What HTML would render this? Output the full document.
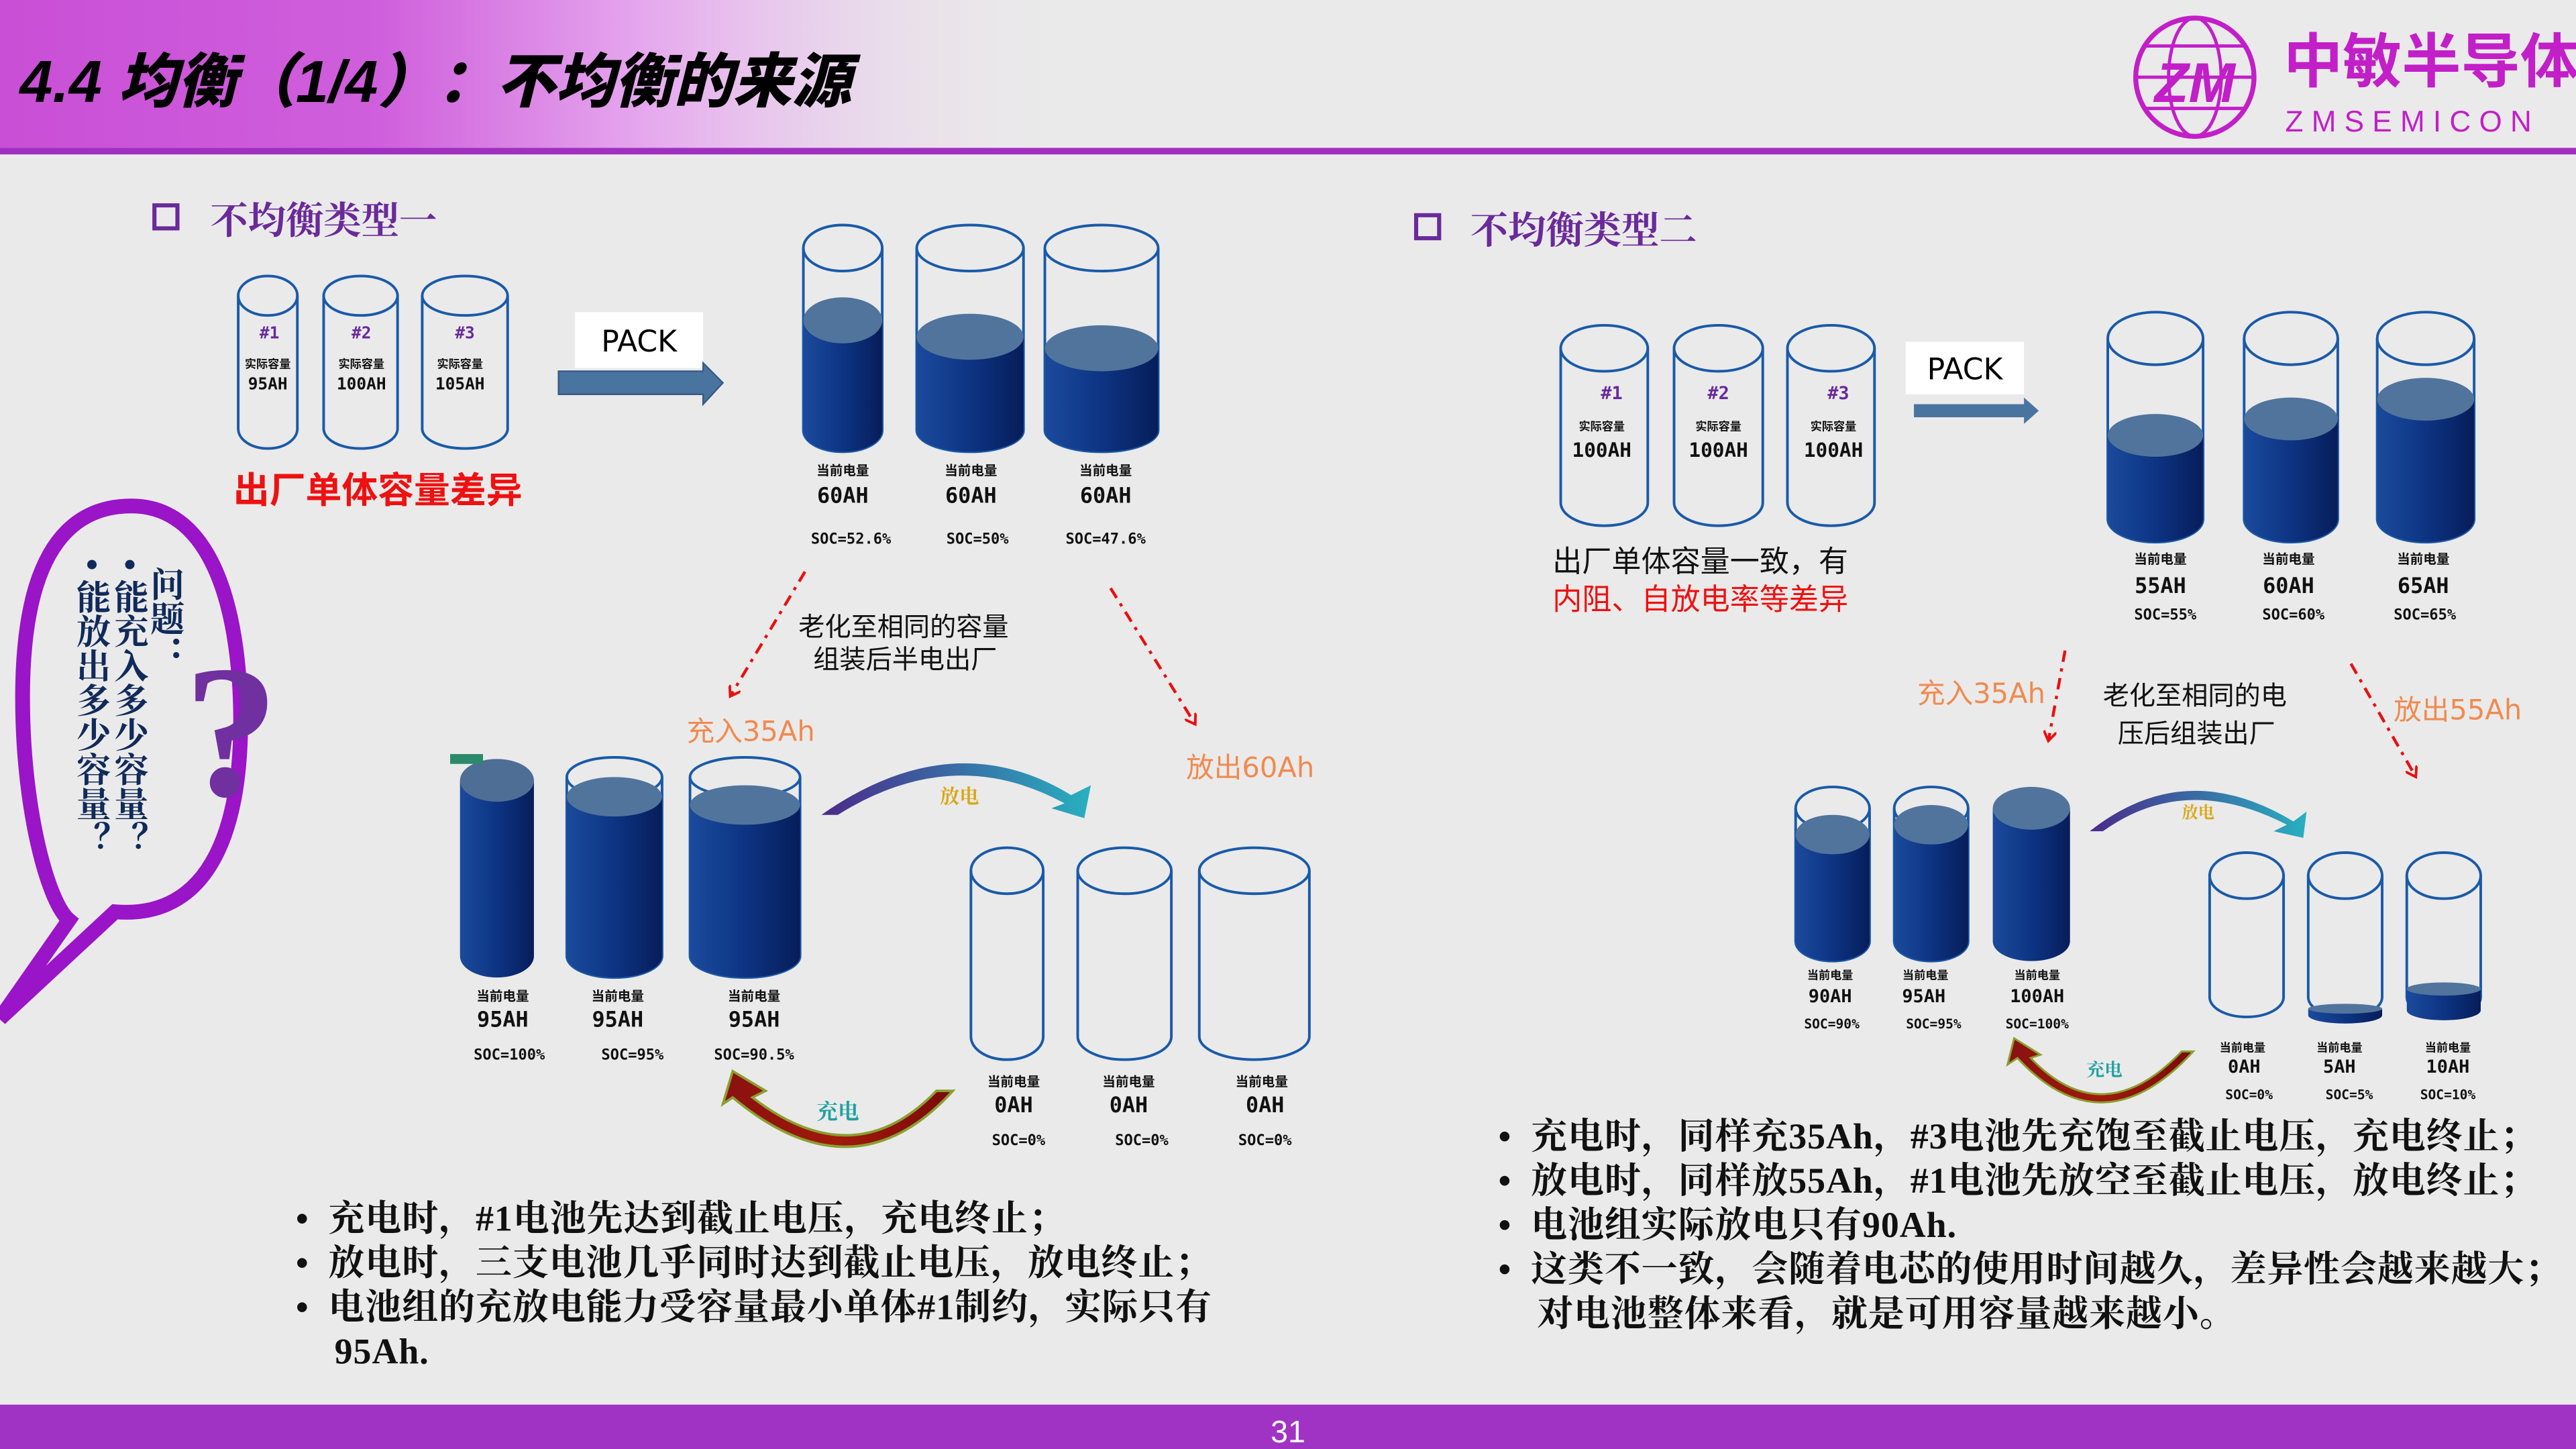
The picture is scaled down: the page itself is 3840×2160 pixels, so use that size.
<!DOCTYPE html>
<html><head><meta charset="utf-8">
<style>
html,body{margin:0;padding:0;width:3840px;height:2160px;overflow:hidden;background:#e8e8e8}
#w{position:absolute;left:0;top:0;width:1568px;height:882px;transform:scale(2.44898);transform-origin:0 0;background:#eaeaea;font-family:"Liberation Sans","Noto Sans CJK SC",sans-serif}
.a{position:absolute;white-space:nowrap}
.bl{font-family:"Liberation Serif","Noto Serif CJK SC",serif;font-weight:bold;font-size:22px;letter-spacing:0.4px;line-height:27px;color:#111}
.vt{writing-mode:vertical-rl;font-family:"Liberation Serif","Noto Serif CJK SC",serif;font-weight:bold;font-size:21px;color:#102a5a;line-height:22px}
</style></head><body><div id="w">
<svg width="1568" height="882" viewBox="0 0 1568 882" style="position:absolute;left:0;top:0" xmlns="http://www.w3.org/2000/svg">
<defs>
<linearGradient id="hd" x1="0" x2="1" y1="0" y2="0">
<stop offset="0" stop-color="#c94fd6"/><stop offset="0.35" stop-color="#cf5fdc"/><stop offset="0.6" stop-color="#e6a9ee"/><stop offset="1" stop-color="#eaeaea" stop-opacity="0"/></linearGradient>
<linearGradient id="bd" x1="0" x2="1" y1="0" y2="0">
<stop offset="0" stop-color="#1b4a9c"/><stop offset="0.5" stop-color="#0d3483"/><stop offset="1" stop-color="#071d5a"/></linearGradient>
<linearGradient id="dis" x1="0" x2="1"><stop offset="0" stop-color="#4a2a8a"/><stop offset="1" stop-color="#28b0c0"/></linearGradient>
<linearGradient id="chg" x1="0" x2="1"><stop offset="0" stop-color="#8a1010"/><stop offset="0.5" stop-color="#a01a0a"/><stop offset="1" stop-color="#7a0a0a"/></linearGradient>
<marker id="ar" markerWidth="8" markerHeight="8" refX="5" refY="4" orient="auto" markerUnits="userSpaceOnUse"><path d="M0,0 L6,4 L0,8" fill="none" stroke="#e81010" stroke-width="1.6"/></marker>
</defs>
<rect x="0" y="0" width="660" height="90" fill="url(#hd)"/>
<rect x="0" y="90" width="1568" height="4" fill="#a030c0"/>
<rect x="0" y="855" width="1568" height="27" fill="#a033c4"/>
<text x="784" y="878" font-size="19" fill="#fff" text-anchor="middle" font-family="Liberation Sans">31</text>
<text x="12" y="62" font-size="36" font-weight="900" font-family="Liberation Sans,Noto Sans CJK SC,sans-serif" fill="#000" font-style="italic">4.4 均衡（1/4）：不均衡的来源</text>
<!-- logo -->
<circle cx="1336" cy="47" r="36" fill="none" stroke="#c21fc8" stroke-width="3"/>
<ellipse cx="1336" cy="47" rx="16" ry="36" fill="none" stroke="#c21fc8" stroke-width="2"/>
<line x1="1300" y1="47" x2="1372" y2="47" stroke="#c21fc8" stroke-width="2"/>
<line x1="1306" y1="28" x2="1366" y2="28" stroke="#c21fc8" stroke-width="2"/>
<line x1="1306" y1="66" x2="1366" y2="66" stroke="#c21fc8" stroke-width="2"/>
<text x="1336" y="62" font-size="34" font-weight="bold" fill="#c21fc8" text-anchor="middle" font-style="italic" font-family="Liberation Sans">ZM</text>
<text x="1390" y="50" font-size="36" font-weight="bold" fill="#c21fc8" font-family="Noto Sans CJK SC,sans-serif">中敏半导体</text>
<text x="1391" y="80" font-size="18" fill="#c21fc8" letter-spacing="5" font-family="Liberation Sans">ZMSEMICON</text>

<!-- titles -->
<rect x="94" y="125" width="14" height="14" fill="none" stroke="#6a2a9a" stroke-width="2.5"/>
<text x="128" y="142" font-size="23" font-weight="bold" fill="#6a2a9a" font-family="Liberation Serif,Noto Serif CJK SC,serif">不均衡类型一</text>
<rect x="862" y="131" width="14" height="14" fill="none" stroke="#6a2a9a" stroke-width="2.5"/>
<text x="895" y="148" font-size="23" font-weight="bold" fill="#6a2a9a" font-family="Liberation Serif,Noto Serif CJK SC,serif">不均衡类型二</text>

<g fill="none" stroke="#1a5aa8" stroke-width="1.6">
<path d="M145,180 V261 A18,12 0 0 0 181,261 V180"/><ellipse cx="163" cy="180" rx="18" ry="12"/>
<path d="M197,180 V261 A22.5,12 0 0 0 242,261 V180"/><ellipse cx="219.5" cy="180" rx="22.5" ry="12"/>
<path d="M257,180 V261 A26,12 0 0 0 309,261 V180"/><ellipse cx="283" cy="180" rx="26" ry="12"/>
<path d="M489,151 V262 A24,13 0 0 0 537,262 V151"/><ellipse cx="513" cy="151" rx="24" ry="14"/>
<path d="M558,151 V262 A32.5,13 0 0 0 623,262 V151"/><ellipse cx="590.5" cy="151" rx="32.5" ry="14"/>
<path d="M636,151 V262 A34.5,13 0 0 0 705,262 V151"/><ellipse cx="670.5" cy="151" rx="34.5" ry="14"/>
<path d="M345,473 V582 A29,13 0 0 0 403,582 V473"/><ellipse cx="374" cy="473" rx="29" ry="12"/>
<path d="M420,473 V582 A33.5,13 0 0 0 487,582 V473"/><ellipse cx="453.5" cy="473" rx="33.5" ry="12"/>
<path d="M591,530 V631 A22,14 0 0 0 635,631 V530"/><ellipse cx="613" cy="530" rx="22" ry="14"/>
<path d="M656,530 V631 A28.5,14 0 0 0 713,631 V530"/><ellipse cx="684.5" cy="530" rx="28.5" ry="14"/>
<path d="M730,530 V631 A33.5,14 0 0 0 797,631 V530"/><ellipse cx="763.5" cy="530" rx="33.5" ry="14"/>
<path d="M950,212 V306 A26.5,14 0 0 0 1003,306 V212"/><ellipse cx="976.5" cy="212" rx="26.5" ry="14"/>
<path d="M1019,212 V306 A27,14 0 0 0 1073,306 V212"/><ellipse cx="1046" cy="212" rx="27" ry="14"/>
<path d="M1088,212 V306 A26.5,14 0 0 0 1141,306 V212"/><ellipse cx="1114.5" cy="212" rx="26.5" ry="14"/>
<path d="M1283,206 V316 A29,14 0 0 0 1341,316 V206"/><ellipse cx="1312" cy="206" rx="29" ry="16"/>
<path d="M1366,206 V316 A28.5,14 0 0 0 1423,316 V206"/><ellipse cx="1394.5" cy="206" rx="28.5" ry="16"/>
<path d="M1447,206 V316 A29.5,14 0 0 0 1506,316 V206"/><ellipse cx="1476.5" cy="206" rx="29.5" ry="16"/>
<path d="M1093,492 V573 A22.5,12 0 0 0 1138,573 V492"/><ellipse cx="1115.5" cy="492" rx="22.5" ry="13"/>
<path d="M1153,492 V573 A22.5,12 0 0 0 1198,573 V492"/><ellipse cx="1175.5" cy="492" rx="22.5" ry="13"/>
<path d="M1345,533 V607 A22.5,12 0 0 0 1390,607 V533"/><ellipse cx="1367.5" cy="533" rx="22.5" ry="14"/>
<path d="M1405,533 V607 A22.5,12 0 0 0 1450,607 V533"/><ellipse cx="1427.5" cy="533" rx="22.5" ry="14"/>
<path d="M1465,533 V607 A22.5,12 0 0 0 1510,607 V533"/><ellipse cx="1487.5" cy="533" rx="22.5" ry="14"/>
</g>
<g>
<path d="M489,195 V262 A24,13 0 0 0 537,262 V195 Z" fill="url(#bd)"/><ellipse cx="513" cy="195" rx="24" ry="14" fill="#51749c"/>
<path d="M558,205 V262 A32.5,13 0 0 0 623,262 V205 Z" fill="url(#bd)"/><ellipse cx="590.5" cy="205" rx="32.5" ry="14" fill="#51749c"/>
<path d="M636,212 V262 A34.5,13 0 0 0 705,262 V212 Z" fill="url(#bd)"/><ellipse cx="670.5" cy="212" rx="34.5" ry="14" fill="#51749c"/>
<path d="M280,475 V582 A22.5,13 0 0 0 325,582 V475 Z" fill="url(#bd)"/><ellipse cx="302.5" cy="475" rx="22.5" ry="13" fill="#4f6e96"/>
<rect x="274" y="459" width="20" height="6" fill="#2a8a6a"/>
<path d="M345,485 V582 A29,13 0 0 0 403,582 V485 Z" fill="url(#bd)"/><ellipse cx="374" cy="485" rx="29" ry="12" fill="#51749c"/>
<path d="M420,490 V582 A33.5,13 0 0 0 487,582 V490 Z" fill="url(#bd)"/><ellipse cx="453.5" cy="490" rx="33.5" ry="12" fill="#51749c"/>
<path d="M1283,265 V316 A29,14 0 0 0 1341,316 V265 Z" fill="url(#bd)"/><ellipse cx="1312" cy="265" rx="29" ry="13" fill="#51749c"/>
<path d="M1366,255 V316 A28.5,14 0 0 0 1423,316 V255 Z" fill="url(#bd)"/><ellipse cx="1394.5" cy="255" rx="28.5" ry="13" fill="#51749c"/>
<path d="M1447,243 V316 A29.5,14 0 0 0 1506,316 V243 Z" fill="url(#bd)"/><ellipse cx="1476.5" cy="243" rx="29.5" ry="13" fill="#51749c"/>
<path d="M1093,508 V573 A22.5,12 0 0 0 1138,573 V508 Z" fill="url(#bd)"/><ellipse cx="1115.5" cy="508" rx="22.5" ry="12" fill="#51749c"/>
<path d="M1153,502 V573 A22.5,12 0 0 0 1198,573 V502 Z" fill="url(#bd)"/><ellipse cx="1175.5" cy="502" rx="22.5" ry="12" fill="#51749c"/>
<path d="M1213,492 V573 A23.5,12 0 0 0 1260,573 V492 Z" fill="url(#bd)"/><ellipse cx="1236.5" cy="492" rx="23.5" ry="13" fill="#51749c"/>
<path d="M1405,614 V618 A22.5,5 0 0 0 1450,618 V614 Z" fill="url(#bd)"/><ellipse cx="1427.5" cy="614" rx="22.5" ry="3" fill="#51749c"/>
<path d="M1465,602 V615 A22.5,6 0 0 0 1510,615 V602 Z" fill="url(#bd)"/><ellipse cx="1487.5" cy="602" rx="22.5" ry="4" fill="#51749c"/>
</g>

<rect x="350" y="190" width="78" height="34" fill="#fff"/>
<text x="389" y="214" font-size="18" text-anchor="middle" font-family="DejaVu Sans,sans-serif">PACK</text>
<path d="M340,226 H428 V221 L440,233 L428,246 V240 H340 Z" fill="#4a74a0" stroke="#3a5a88" stroke-width="1"/>
<rect x="1160" y="208" width="72" height="32" fill="#fff"/>
<text x="1196" y="231" font-size="18" text-anchor="middle" font-family="DejaVu Sans,sans-serif">PACK</text>
<path d="M1165,246 H1232 V242 L1241,250 L1232,258 V254 H1165 Z" fill="#4a74a0"/>

<g font-family="DejaVu Sans Mono,Liberation Mono,monospace" font-weight="bold" fill="#111" text-anchor="middle">
<text x="164" y="206" font-size="10" fill="#6a2a9a">#1</text><text x="220" y="206" font-size="10" fill="#6a2a9a">#2</text><text x="283" y="206" font-size="10" fill="#6a2a9a">#3</text>
<text x="163" y="224" font-size="7" font-family="Noto Sans CJK SC">实际容量</text><text x="220" y="224" font-size="7" font-family="Noto Sans CJK SC">实际容量</text><text x="280" y="224" font-size="7" font-family="Noto Sans CJK SC">实际容量</text>
<text x="163" y="237" font-size="10">95AH</text><text x="220" y="237" font-size="10">100AH</text><text x="280" y="237" font-size="10">105AH</text>
<g font-size="8" font-family="Noto Sans CJK SC"><text x="513" y="289">当前电量</text><text x="591" y="289">当前电量</text><text x="673" y="289">当前电量</text></g>
<g font-size="13"><text x="513" y="306">60AH</text><text x="591" y="306">60AH</text><text x="673" y="306">60AH</text></g>
<g font-size="9"><text x="518" y="331">SOC=52.6%</text><text x="595" y="331">SOC=50%</text><text x="673" y="331">SOC=47.6%</text></g>
<g font-size="8" font-family="Noto Sans CJK SC"><text x="306" y="609">当前电量</text><text x="376" y="609">当前电量</text><text x="459" y="609">当前电量</text></g>
<g font-size="13"><text x="306" y="625">95AH</text><text x="376" y="625">95AH</text><text x="459" y="625">95AH</text></g>
<g font-size="9"><text x="310" y="645">SOC=100%</text><text x="385" y="645">SOC=95%</text><text x="459" y="645">SOC=90.5%</text></g>
<g font-size="8" font-family="Noto Sans CJK SC"><text x="617" y="661">当前电量</text><text x="687" y="661">当前电量</text><text x="768" y="661">当前电量</text></g>
<g font-size="13"><text x="617" y="677">0AH</text><text x="687" y="677">0AH</text><text x="770" y="677">0AH</text></g>
<g font-size="9"><text x="620" y="697">SOC=0%</text><text x="695" y="697">SOC=0%</text><text x="770" y="697">SOC=0%</text></g>
<text x="981" y="243" font-size="11" fill="#6a2a9a">#1</text><text x="1046" y="243" font-size="11" fill="#6a2a9a">#2</text><text x="1119" y="243" font-size="11" fill="#6a2a9a">#3</text>
<g font-size="7" font-family="Noto Sans CJK SC"><text x="975" y="262">实际容量</text><text x="1046" y="262">实际容量</text><text x="1116" y="262">实际容量</text></g>
<g font-size="12"><text x="975" y="278">100AH</text><text x="1046" y="278">100AH</text><text x="1116" y="278">100AH</text></g>
<g font-size="8" font-family="Noto Sans CJK SC"><text x="1315" y="343">当前电量</text><text x="1393" y="343">当前电量</text><text x="1475" y="343">当前电量</text></g>
<g font-size="13"><text x="1315" y="361">55AH</text><text x="1393" y="361">60AH</text><text x="1475" y="361">65AH</text></g>
<g font-size="9"><text x="1318" y="377">SOC=55%</text><text x="1396" y="377">SOC=60%</text><text x="1476" y="377">SOC=65%</text></g>
<g font-size="7" font-family="Noto Sans CJK SC"><text x="1114" y="596">当前电量</text><text x="1172" y="596">当前电量</text><text x="1240" y="596">当前电量</text></g>
<g font-size="11"><text x="1114" y="610">90AH</text><text x="1171" y="610">95AH</text><text x="1240" y="610">100AH</text></g>
<g font-size="8"><text x="1115" y="626">SOC=90%</text><text x="1177" y="626">SOC=95%</text><text x="1240" y="626">SOC=100%</text></g>
<g font-size="7" font-family="Noto Sans CJK SC"><text x="1365" y="640">当前电量</text><text x="1424" y="640">当前电量</text><text x="1490" y="640">当前电量</text></g>
<g font-size="11"><text x="1366" y="653">0AH</text><text x="1424" y="653">5AH</text><text x="1490" y="653">10AH</text></g>
<g font-size="8"><text x="1369" y="669">SOC=0%</text><text x="1430" y="669">SOC=5%</text><text x="1490" y="669">SOC=10%</text></g>
</g>

<text x="142" y="306" font-size="22" font-weight="bold" fill="#ee1111" font-family="Noto Sans CJK SC,sans-serif">出厂单体容量差异</text>
<text x="945" y="348" font-size="18" fill="#111" font-family="Noto Sans CJK SC,sans-serif">出厂单体容量一致，有</text>
<text x="945" y="371" font-size="18" fill="#ee1111" font-family="Noto Sans CJK SC,sans-serif">内阻、自放电率等差异</text>

<g stroke="#e81010" stroke-width="1.8" stroke-dasharray="7,4,2,4" fill="none">
<line x1="490" y1="348" x2="445" y2="423" marker-end="url(#ar)"/>
<line x1="676" y1="358" x2="727" y2="440" marker-end="url(#ar)"/>
<line x1="1257" y1="396" x2="1247" y2="450" marker-end="url(#ar)"/>
<line x1="1431" y1="404" x2="1470" y2="472" marker-end="url(#ar)"/>
</g>
<g font-family="Noto Sans CJK SC,sans-serif" font-size="16" fill="#111">
<text x="486" y="387">老化至相同的容量</text><text x="495" y="407">组装后半电出厂</text>
<text x="1280" y="429">老化至相同的电</text><text x="1289" y="452">压后组装出厂</text>
</g>
<g font-family="DejaVu Sans,Noto Sans CJK SC,sans-serif" font-size="17" fill="#f08a50">
<text x="418" y="451">充入35Ah</text><text x="722" y="473">放出60Ah</text>
<text x="1167" y="428">充入35Ah</text><text x="1457" y="438">放出55Ah</text>
</g>

<path d="M500,496 Q580,440 652,484 L664,478 L660,498 L640,492 L648,489 Q580,452 510,496 Z" fill="url(#dis)"/>
<text x="572" y="489" font-size="12" font-weight="bold" fill="#d8a818" font-family="Noto Serif CJK SC,serif">放电</text>
<path d="M580,664 Q520,730 446,668 L440,672 L446,652 L466,664 L458,668 Q520,716 570,664 Z" fill="url(#chg)" stroke="#8aa030" stroke-width="1.5"/>
<text x="497" y="681" font-size="13" font-weight="bold" fill="#20a0a0" font-family="Noto Serif CJK SC,serif">充电</text>
<path d="M1272,506 Q1330,460 1396,500 L1404,494 L1402,510 L1384,506 L1392,502 Q1330,470 1280,506 Z" fill="url(#dis)"/>
<text x="1328" y="498" font-size="10" font-weight="bold" fill="#d8a818" font-family="Noto Serif CJK SC,serif">放电</text>
<path d="M1335,640 Q1280,700 1228,644 L1222,648 L1226,632 L1242,642 L1236,644 Q1280,690 1328,640 Z" fill="url(#chg)" stroke="#8aa030" stroke-width="1.2"/>
<text x="1270" y="655" font-size="11" font-weight="bold" fill="#20a0a0" font-family="Noto Serif CJK SC,serif">充电</text>

<path d="M80,308 C20,308 12,380 14,440 C16,500 30,550 42,560 L0,620 L70,555 C130,560 150,500 146,420 C142,350 120,308 80,308 Z" fill="none" stroke="#9a14c8" stroke-width="9"/>
<text x="112" y="484" font-size="115" font-weight="bold" fill="#7030a0" font-family="Liberation Serif,serif">?</text>
</svg>
<div class="a vt" style="left:90px;top:345px">问题：</div>
<div class="a vt" style="left:68px;top:340px">• 能充入多少容量？</div>
<div class="a vt" style="left:45px;top:340px">• 能放出多少容量？</div>

<div class="a bl" style="left:180px;top:728px">•&nbsp; 充电时，#1电池先达到截止电压，充电终止；<br>•&nbsp; 放电时，三支电池几乎同时达到截止电压，放电终止；<br>•&nbsp; 电池组的充放电能力受容量最小单体#1制约，实际只有<br>&nbsp;&nbsp;&nbsp;&nbsp;95Ah.</div>
<div class="a bl" style="left:912px;top:678px">•&nbsp; 充电时，同样充35Ah，#3电池先充饱至截止电压，充电终止；<br>•&nbsp; 放电时，同样放55Ah，#1电池先放空至截止电压，放电终止；<br>•&nbsp; 电池组实际放电只有90Ah.<br>•&nbsp; 这类不一致，会随着电芯的使用时间越久，差异性会越来越大；<br>&nbsp;&nbsp;&nbsp;&nbsp;对电池整体来看，就是可用容量越来越小。</div>
</div></body></html>
